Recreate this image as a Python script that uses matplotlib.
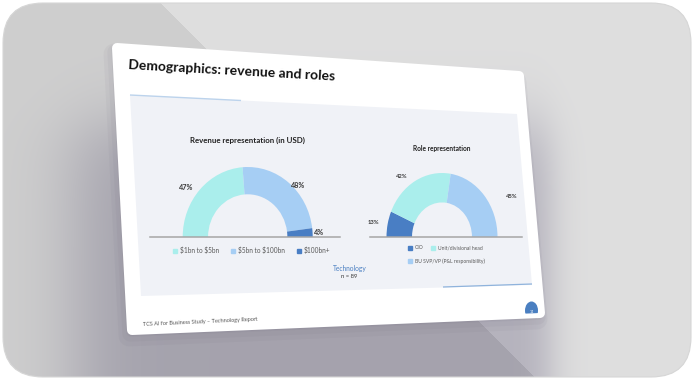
import numpy as np
import matplotlib
matplotlib.use("Agg")
import matplotlib.pyplot as plt
from matplotlib.patches import Polygon, FancyBboxPatch, Ellipse, Patch

plt.rcParams['font.family'] = ['Lato', 'DejaVu Sans']

# ---------------- data ----------------
slide_title = "Demographics: revenue and roles"
revenue_title = "Revenue representation (in USD)"
revenue_labels = ["$1bn to $5bn", "$5bn to $100bn", "$100bn+"]
revenue_values = [47, 48, 4]
role_title = "Role representation"
role_labels = ["CIO", "Unit/divisional head", "BU SVP/VP (P&L responsibility)"]
role_values = [13, 42, 45]
segment_name = "Technology"
sample_size = 89
footer_text = "TCS AI for Business Study \u2013 Technology Report"
page_number = "14"

# ---------------- style ----------------
CYAN = "#aaeeec"
LBLUE = "#a6cef4"
DBLUE = "#497ec4"
revenue_colors = [CYAN, LBLUE, DBLUE]
role_colors = [DBLUE, CYAN, LBLUE]

W, H = 694, 380
fig = plt.figure(figsize=(W / 100, H / 100), dpi=100)
fig.patch.set_facecolor("white")

bg = fig.add_axes([0, 0, 1, 1])
bg.set_xlim(0, W)
bg.set_ylim(H, 0)
bg.axis("off")

# background with diagonal split and soft shadow
yy, xx = np.mgrid[0:H, 0:W].astype(float)
base = np.where(xx - yy > 157, 223.0, 207.0)
fl = 1 / (1 + np.exp(-(xx - 75) / 22))
fr = 1 / (1 + np.exp((xx - 550) / 10))
fy = 1 / (1 + np.exp(-(yy - 125) / 20))
D = 42 * fl * fr * fy
img = np.clip(np.stack([base - D, base - 1.05 * D, base - 0.8 * D], axis=-1) / 255, 0, 1)
frame = FancyBboxPatch((3, 3), W - 6, H - 6, boxstyle="round,pad=0,rounding_size=40",
                       transform=bg.transData, facecolor="none", edgecolor="#d6d6d6", lw=0.8, zorder=3)
im = bg.imshow(img, extent=(0, W, H, 0), aspect="auto", zorder=0, interpolation="bilinear")
bg.add_patch(frame)
im.set_clip_path(frame)

# slide card (shadow + white)
slide_pts = [(117, 48), (519, 76), (540, 313), (132, 330)]
for k, a in enumerate([0.05, 0.05, 0.05]):
    off = 2 + 2 * k
    sh = Polygon([(x - off * 0.5, y + off) for x, y in slide_pts], closed=True,
                 facecolor=(0.35, 0.33, 0.42, a), edgecolor=(0.35, 0.33, 0.42, a),
                 lw=7 + 4 * k, joinstyle="round", zorder=1)
    bg.add_patch(sh)
slide = Polygon(slide_pts, closed=True, facecolor="white", edgecolor="white",
                lw=7.2, joinstyle="round", zorder=2)
bg.add_patch(slide)

# inner panel
panel = Polygon([(130, 95), (517, 114), (532, 285), (141, 296)], closed=True,
                facecolor="#f0f2f7", edgecolor="none", zorder=3)
bg.add_patch(panel)
bg.plot([130, 241], [95, 100.5], color="#bcd3ec", lw=1.0, zorder=4, solid_capstyle="butt")
bg.plot([443, 532], [287, 284], color="#8fb3dc", lw=0.9, zorder=4, solid_capstyle="butt")

# slide title & footer
bg.text(128, 69, slide_title, fontsize=10, fontweight="bold", color="#111111",
        rotation=-3.2, rotation_mode="anchor", ha="left", va="baseline", zorder=5)
bg.text(143, 326.5, footer_text, fontsize=4.0, color="#555555",
        rotation=2.6, rotation_mode="anchor", ha="left", va="baseline", zorder=5)
bg.text(349.5, 268, segment_name, fontsize=4.8, color="#4a7fc1",
        ha="center", va="center", zorder=5)
bg.text(349.5, 277, f"n = {sample_size}", fontsize=4.2, color="#333333",
        ha="center", va="center", zorder=5)

# page badge
badge = Ellipse((531.5, 310.5), 13, 18, facecolor="#4a7fc1", edgecolor="none", zorder=5)
bg.add_patch(badge)
badge.set_clip_path(slide)
bg.text(531.5, 312, page_number, fontsize=2.5, color="white", ha="center", va="center", zorder=6)


def esc(s):
    return s.replace("$", r"\$")


def px_axes(cx, cy, rx, ry):
    return fig.add_axes([(cx - rx) / W, 1 - cy / H, 2 * rx / W, ry / H])


def half_donut(ax, values, colors, width, label_pos, fs):
    vals = list(values) + [sum(values)]
    cols = list(colors) + ["none"]
    wedges, _ = ax.pie(vals, colors=cols, startangle=180, counterclock=False,
                       radius=1, wedgeprops=dict(width=width, linewidth=0))
    ax.set_aspect("auto")
    ax.set_xlim(-1, 1)
    ax.set_ylim(0, 1)
    ax.patch.set_alpha(0)
    for w, v, (r, dth) in zip(wedges[:-1], values, label_pos):
        th = np.deg2rad((w.theta1 + w.theta2) / 2 + dth)
        ax.text(r * np.cos(th), r * np.sin(th), f"{v}%", fontsize=fs, fontweight="bold",
                color="#3a3a3a", ha="center", va="center", clip_on=False)
    return wedges


# ---- revenue chart ----
ax1 = px_axes(247.7, 237, 65, 70)
half_donut(ax1, revenue_values, revenue_colors, 0.39,
           [(1.18, 5.7), (1.07, -7), (1.1, 0)], 5.2)
ax1.plot([-1.5, 1.42], [0, 0], color="#a6a6a6", lw=1.1, clip_on=False, zorder=5)
ax1.set_title(revenue_title, fontsize=5.7, fontweight="bold", color="#222222", pad=0, y=1.35)
leg1 = ax1.legend(handles=[Patch(color=c, label=esc(l)) for c, l in zip(revenue_colors, revenue_labels)],
                  loc="center left", bbox_to_anchor=(-0.1, -0.19), ncol=3, fontsize=4.7,
                  frameon=False, handlelength=0.6, handleheight=0.6, handletextpad=0.5,
                  columnspacing=1.8, borderpad=0, labelcolor="#595959")

# ---- role chart ----
ax2 = px_axes(442, 237, 55.5, 64)
half_donut(ax2, role_values, role_colors, 0.46,
           [(1.26, 1.7), (1.19, 9), (1.41, -13.5)], 4.2)
ax2.plot([-1.3, 1.44], [0, 0], color="#a6a6a6", lw=1.1, clip_on=False, zorder=5)
ax2.set_title(role_title, fontsize=4.7, fontweight="bold", color="#222222", pad=0, y=1.35)
h = [Patch(color=c, label=l) for c, l in zip(role_colors, role_labels)]
lg_a = ax2.legend(handles=h[:2], loc="center left", bbox_to_anchor=(0.17, -0.17), ncol=2,
                  fontsize=3.6, frameon=False, handlelength=0.8, handleheight=0.8,
                  handletextpad=0.6, columnspacing=1.4, borderpad=0, labelcolor="#595959")
ax2.add_artist(lg_a)
ax2.legend(handles=h[2:], loc="center left", bbox_to_anchor=(0.17, -0.38), ncol=1,
           fontsize=3.6, frameon=False, handlelength=0.8, handleheight=0.8,
           handletextpad=0.6, borderpad=0, labelcolor="#595959")

fig.savefig("out.png", dpi=100)
